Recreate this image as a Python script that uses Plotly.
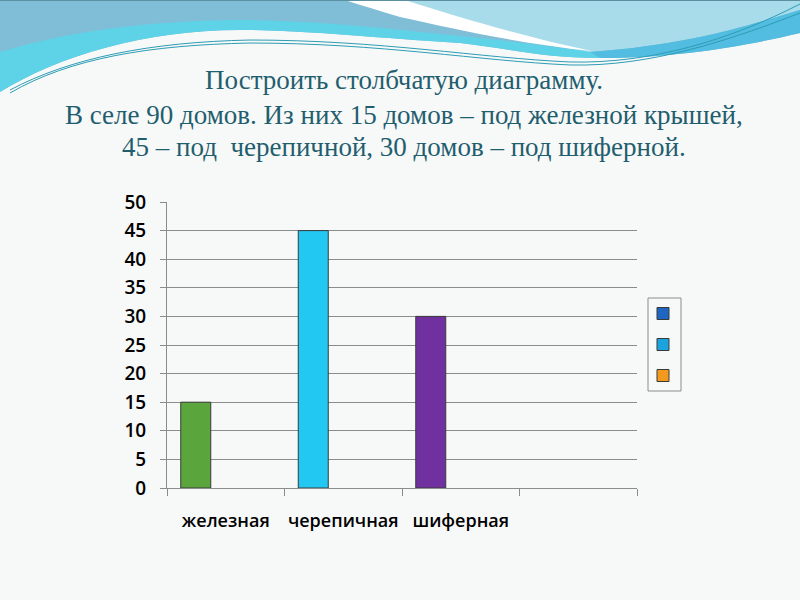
import plotly.graph_objects as go

W, H = 800, 600

# данные диаграммы
categories = ['железная', 'черепичная', 'шиферная', ' ']
roof_values = [15, 45, 30, None]
bar_colors = ['#5BA53D', '#22C7F2', '#7030A0', '#1F66C1']
legend_colors = ['#1F66C1', '#1AA3DC', '#F39A1E']
y_ticks = [0, 5, 10, 15, 20, 25, 30, 35, 40, 45, 50]

title_lines = [
    'Построить столбчатую диаграмму.',
    'В селе 90 домов. Из них 15 домов – под железной крышей,',
    '45 – под  черепичной, 30 домов – под шиферной.',
]

BG = '#F7F8F8'
GRID = '#8C8C8C'


def svg(cmds, close=True):
    # пиксельные координаты -> paper
    out = []
    for op, *nums in cmds:
        pts = [f"{nums[i] / W:.4f},{1 - nums[i + 1] / H:.4f}" for i in range(0, len(nums), 2)]
        out.append(op + ' '.join(pts))
    return ' '.join(out) + (' Z' if close else '')


fig = go.Figure()

# первая серия: пустая категория первой, чтобы значок легенды был синим
order = [3, 0, 1, 2]
fig.add_trace(go.Bar(
    x=[categories[i] for i in order],
    y=[roof_values[i] for i in order],
    name=' ',
    legendgroup='s1',
    marker=dict(color=[bar_colors[i] for i in order],
                line=dict(color='#3A3A3A', width=1)),
))
for k, c in enumerate(legend_colors[1:], start=2):
    fig.add_trace(go.Bar(
        x=categories,
        y=[None] * len(categories),
        name=' ',
        legendgroup=f's{k}',
        marker=dict(color=c, line=dict(color='#3A3A3A', width=1)),
    ))

# шапка слайда (волны)
lower_edge = [('C', 750, 45, 680, 58, 600, 58), ('C', 540, 58, 500, 47, 460, 43),
              ('C', 400, 40, 330, 32, 250, 30), ('C', 150, 28, 60, 55, 0, 92)]
header = [
    ('#80BED8', [('M', 0, 0), ('L', 800, 0), ('L', 800, 33)] + lower_edge),
    ('#5ED2E6', [('M', 0, 52), ('C', 60, 34, 130, 22, 230, 20), ('C', 320, 20, 400, 30, 460, 36),
                 ('C', 520, 42, 560, 48, 600, 52), ('L', 600, 58)] + lower_edge[1:]),
    ('#A8DCEA', [('M', 370, 0), ('L', 800, 0), ('L', 800, 10),
                 ('C', 750, 25, 690, 45, 590, 52), ('C', 520, 40, 450, 20, 370, 0)]),
    ('#52BDE0', [('M', 590, 52), ('C', 690, 45, 750, 25, 800, 10), ('L', 800, 33),
                 lower_edge[0]]),
    ('#FFFFFF', [('M', 345, 0), ('L', 405, 0), ('C', 460, 18, 530, 38, 592, 51),
                 ('C', 520, 44, 450, 28, 400, 17), ('C', 380, 11, 360, 5, 345, 0)]),
]
shapes = [dict(type='path', xref='paper', yref='paper', path=svg(p), fillcolor=c,
               line=dict(width=0), layer='above') for c, p in header]
for dy in (0, 3):
    shapes.append(dict(
        type='path', xref='paper', yref='paper', layer='above',
        path=svg([('M', 10, 90 + dy), ('C', 70, 58, 150, 42 + dy, 250, 40 + dy),
                  ('C', 380, 40 + dy, 480, 58 + dy, 570, 62 + dy),
                  ('C', 650, 64 + dy, 730, 40, 800, 4 + dy * 3)], close=False),
        line=dict(color='#2C9DB5', width=1)))
shapes.append(dict(type='line', xref='paper', yref='paper', x0=0, x1=1, y0=1, y1=1,
                   line=dict(color='#5E8FA0', width=2), layer='above'))
# рамка легенды
shapes.append(dict(type='rect', xref='paper', yref='paper',
                   x0=648 / W, x1=681 / W, y0=1 - 391 / H, y1=1 - 298 / H,
                   line=dict(color=GRID, width=1), fillcolor=BG, layer='below'))

# заголовок
title_y = [80, 115, 147]
annotations = [dict(text=t, x=404 / W, y=1 - yy / H, xref='paper', yref='paper',
                    xanchor='center', yanchor='middle', showarrow=False,
                    font=dict(family='Liberation Serif', size=27, color='#1F5E6E'))
               for t, yy in zip(title_lines, title_y)]

fig.update_layout(
    width=W, height=H, autosize=False,
    margin=dict(l=0, r=0, t=0, b=0, pad=0),
    paper_bgcolor=BG, plot_bgcolor=BG,
    barmode='group', bargap=0.234, bargroupgap=0,
    shapes=shapes, annotations=annotations,
    showlegend=True,
    legend=dict(x=643 / W, y=1 - 299 / H, xanchor='left', yanchor='top',
                borderwidth=0, bgcolor='rgba(0,0,0,0)',
                tracegroupgap=12, font=dict(size=12)),
    font=dict(family='Open Sans', color='#000000'),
)
fig.update_xaxes(
    domain=[167 / W, 637 / W], automargin=False,
    type='category', categoryorder='array', categoryarray=categories,
    tickson='boundaries', ticks='outside', ticklen=7, tickcolor=GRID,
    showline=True, linecolor=GRID, linewidth=1, tickangle=0,
    showgrid=False, tickfont=dict(size=18, weight=600), ticklabelstandoff=16,
)
fig.update_yaxes(
    domain=[1 - 488 / H, 1 - 202 / H], range=[0, 50], automargin=False,
    tickvals=y_ticks, ticks='outside', ticklen=6, tickcolor=GRID,
    showline=True, linecolor=GRID, linewidth=1,
    showgrid=True, gridcolor=GRID, gridwidth=1, zeroline=False,
    tickfont=dict(size=19, weight=600), ticklabelstandoff=10,
)

# без отступов страницы, чтобы фигура совпала с окном 800x600
fig.write_html('out.html', config={'displayModeBar': False},
               post_script="document.body.style.margin='0px';")
